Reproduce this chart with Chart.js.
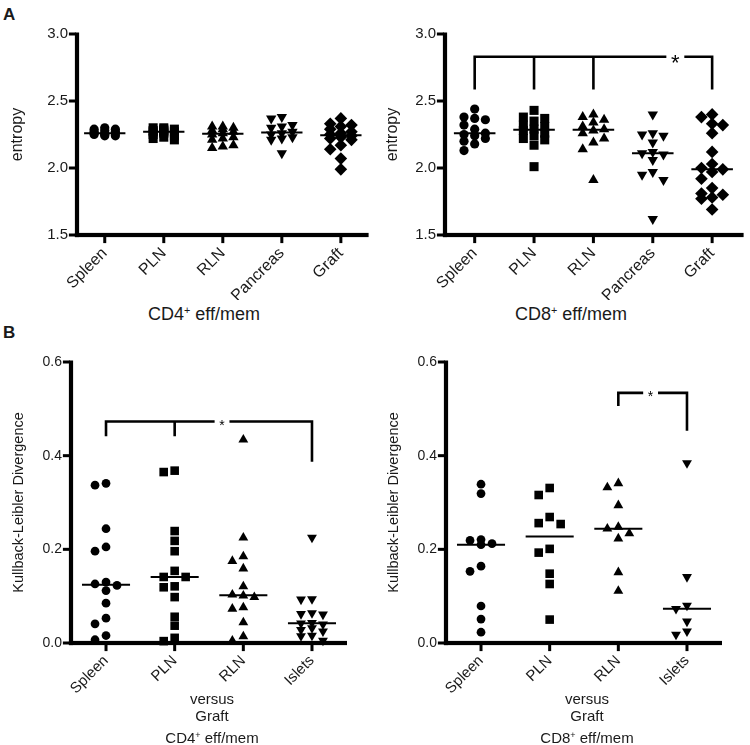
<!DOCTYPE html>
<html>
<head>
<meta charset="utf-8">
<script src="https://cdn.jsdelivr.net/npm/chart.js@4.4.0/dist/chart.umd.min.js"></script>
<style>
  body { margin: 0; background: #fff; }
  #page { position: relative; width: 750px; height: 745px; overflow: hidden; font-family: "Liberation Sans", Arial, sans-serif; color: #1a1a1a; }
  canvas { position: absolute; }
  .txt { position: absolute; transform: translate(-50%, -50%); white-space: nowrap; line-height: 1; }
  .tag { position: absolute; font-weight: bold; font-size: 17px; line-height: 1; }
  sup { font-size: 60%; vertical-align: 0.55em; line-height: 0; }
</style>
</head>
<body>
<div id="page">
  <div class="tag" style="left:3px; top:6px">A</div>
  <div class="tag" style="left:3px; top:324px">B</div>

  <canvas id="cd4Ent" width="375" height="300" style="left:0; top:0"></canvas>
  <canvas id="cd8Ent" width="375" height="300" style="left:375px; top:0"></canvas>
  <canvas id="cd4Kl" width="375" height="380" style="left:0; top:330px"></canvas>
  <canvas id="cd8Kl" width="375" height="380" style="left:375px; top:330px"></canvas>

  <div class="txt" style="left:204px; top:314px; font-size:18px">CD4<sup>+</sup> eff/mem</div>
  <div class="txt" style="left:571px; top:314px; font-size:18px">CD8<sup>+</sup> eff/mem</div>

  <div class="txt" style="left:212px; top:698px; font-size:15px">versus</div>
  <div class="txt" style="left:212px; top:715px; font-size:15px">Graft</div>
  <div class="txt" style="left:212px; top:737px; font-size:15px">CD4<sup>+</sup> eff/mem</div>
  <div class="txt" style="left:587px; top:698px; font-size:15px">versus</div>
  <div class="txt" style="left:587px; top:715px; font-size:15px">Graft</div>
  <div class="txt" style="left:587px; top:737px; font-size:15px">CD8<sup>+</sup> eff/mem</div>
</div>

<script>
// categories
const groupsA = ["Spleen", "PLN", "RLN", "Pancreas", "Graft"]
const groupsB = ["Spleen", "PLN", "RLN", "Islets"]

// tick labels
const entropyTicks = [1.5, 2.0, 2.5, 3.0]
const klTicks = [0, 0.2, 0.4, 0.6]

// A - entropy, CD4+ eff/mem
const cd4EntSpleen = [2.30, 2.29, 2.29, 2.28, 2.27, 2.27, 2.26, 2.26, 2.26, 2.25, 2.25, 2.24, 2.24]
const cd4EntPln = [2.30, 2.30, 2.29, 2.29, 2.28, 2.28, 2.27, 2.27, 2.27, 2.26, 2.25, 2.24, 2.23, 2.22, 2.21]
const cd4EntRln = [2.31, 2.31, 2.30, 2.29, 2.28, 2.27, 2.26, 2.25, 2.23, 2.22, 2.21, 2.17, 2.16, 2.15]
const cd4EntPancreas = [2.38, 2.37, 2.32, 2.31, 2.30, 2.27, 2.26, 2.25, 2.23, 2.22, 2.21, 2.11]
const cd4EntGraft = [2.37, 2.33, 2.32, 2.31, 2.29, 2.27, 2.26, 2.25, 2.24, 2.23, 2.22, 2.21, 2.17, 2.14, 2.07, 1.99]

// A - entropy, CD8+ eff/mem
const cd8EntSpleen = [2.44, 2.38, 2.37, 2.36, 2.32, 2.29, 2.26, 2.25, 2.24, 2.22, 2.20, 2.18, 2.13]
const cd8EntPln = [2.43, 2.38, 2.37, 2.35, 2.32, 2.31, 2.29, 2.28, 2.26, 2.24, 2.22, 2.21, 2.17, 2.01]
const cd8EntRln = [2.40, 2.38, 2.36, 2.34, 2.31, 2.29, 2.28, 2.26, 2.22, 2.19, 2.14, 1.91]
const cd8EntPancreas = [2.40, 2.26, 2.25, 2.24, 2.19, 2.12, 2.11, 2.10, 2.06, 1.97, 1.95, 1.91, 1.62]
const cd8EntGraft = [2.40, 2.38, 2.33, 2.32, 2.26, 2.12, 2.03, 2.00, 1.99, 1.97, 1.92, 1.85, 1.81, 1.80, 1.78, 1.77, 1.69]

// B - Kullback-Leibler divergence versus graft, CD4+
const cd4KlSpleen = [0.341, 0.337, 0.244, 0.205, 0.196, 0.130, 0.126, 0.123, 0.112, 0.085, 0.053, 0.041, 0.016, 0.007]
const cd4KlPln = [0.368, 0.365, 0.239, 0.218, 0.196, 0.154, 0.141, 0.141, 0.121, 0.119, 0.098, 0.056, 0.037, 0.011, 0.004]
const cd4KlRln = [0.434, 0.225, 0.185, 0.175, 0.159, 0.121, 0.103, 0.101, 0.098, 0.076, 0.073, 0.044, 0.014, 0.005]
const cd4KlIslets = [0.225, 0.094, 0.093, 0.064, 0.062, 0.061, 0.043, 0.042, 0.040, 0.032, 0.028, 0.025, 0.016, 0.015, 0.005]

// B - Kullback-Leibler divergence versus graft, CD8+
const cd8KlSpleen = [0.339, 0.319, 0.221, 0.219, 0.212, 0.210, 0.164, 0.153, 0.079, 0.051, 0.023]
const cd8KlPln = [0.331, 0.316, 0.269, 0.256, 0.254, 0.201, 0.193, 0.148, 0.126, 0.050]
const cd8KlRln = [0.341, 0.332, 0.294, 0.248, 0.244, 0.234, 0.223, 0.151, 0.111]
const cd8KlIslets = [0.384, 0.141, 0.080, 0.073, 0.046, 0.025, 0.018]

// significance brackets: groups joined (1-based), bar level, where each leg ends, star position
const cd8EntBracket = { groups: [1, 2, 3, 5], top: 2.83, legs: [2.595, 2.595, 2.595, 2.595], star: 4.38, size: 22 }
const cd4KlBracket = { groups: [1, 2, 4], top: 0.473, legs: [0.444, 0.444, 0.39], star: 2.69, size: 14 }
const cd8KlBracket = { groups: [3, 4], top: 0.534, legs: [0.509, 0.456], star: 3.47, size: 14 }

Chart.defaults.font.family = "'Liberation Sans', Arial, sans-serif"
Chart.defaults.color = "#1a1a1a"

const markers = [
  { pointStyle: "circle", rotation: 0, size: 4.6 },
  { pointStyle: "rect", rotation: 0, size: 6.4 },
  { pointStyle: "triangle", rotation: 0, size: 6 },
  { pointStyle: "triangle", rotation: 180, size: 6 },
  { pointStyle: "rectRot", rotation: 0, size: 6.3 },
]

function median(values) {
  const s = [...values].sort((a, b) => a - b)
  const m = Math.floor(s.length / 2)
  return s.length % 2 ? s[m] : (s[m - 1] + s[m]) / 2
}

// simple column scatter: spread points that would overlap into side columns
function spread(values, yGap, xGap) {
  const cols = [0, -xGap, xGap]
  const placed = cols.map(() => [])
  const order = values.map((_, i) => i).sort((a, b) => values[b] - values[a])
  const out = []
  for (const i of order) {
    const v = values[i]
    let best = 0, bestDist = -1
    for (let c = 0; c < cols.length; c++) {
      const d = placed[c].length ? Math.min(...placed[c].map(p => Math.abs(p - v))) : Infinity
      if (d >= yGap) { best = c; bestDist = d; break }
      if (d > bestDist) { best = c; bestDist = d }
    }
    placed[best].push(v)
    out[i] = cols[best]
  }
  return out
}

// heavy black axis lines with outward tick marks, drawn under the points
const axesPlugin = {
  id: "axes",
  beforeDatasetsDraw(chart) {
    const { ctx, chartArea: a } = chart
    const x = chart.scales.x, y = chart.scales.y
    const w = 4.2, tw = 3, tl = 6
    ctx.save()
    ctx.fillStyle = "#000"
    ctx.fillRect(a.left - w / 2, a.top - 1.5, w, a.bottom - a.top + 1.5 + w / 2)
    ctx.fillRect(a.left - w / 2, a.bottom - w / 2, a.right - a.left + w / 2, w)
    y.ticks.forEach(t => {
      const py = y.getPixelForValue(t.value)
      ctx.fillRect(a.left - w / 2 - tl, py - tw / 2, tl + 1, tw)
    })
    x.ticks.forEach(t => {
      const px = x.getPixelForValue(t.value)
      ctx.fillRect(px - tw / 2, a.bottom, tw, w / 2 + tl)
    })
    ctx.restore()
  },
}

const bracketPlugin = {
  id: "bracket",
  afterDatasetsDraw(chart, args, opts) {
    if (!opts || !opts.groups) return
    const { ctx } = chart
    const x = chart.scales.x, y = chart.scales.y
    const top = y.getPixelForValue(opts.top)
    const xs = opts.groups.map(g => x.getPixelForValue(g))
    const starX = x.getPixelForValue(opts.star)
    ctx.save()
    ctx.font = opts.size + "px 'Liberation Sans', Arial, sans-serif"
    const half = ctx.measureText("*").width / 2 + 6
    ctx.strokeStyle = "#000"
    ctx.lineWidth = 2.6
    ctx.lineCap = "square"
    ctx.beginPath()
    ctx.moveTo(xs[0], top)
    ctx.lineTo(starX - half, top)
    ctx.moveTo(starX + half, top)
    ctx.lineTo(xs[xs.length - 1], top)
    xs.forEach((px, i) => {
      ctx.moveTo(px, top)
      ctx.lineTo(px, y.getPixelForValue(opts.legs[i]))
    })
    ctx.stroke()
    ctx.fillStyle = "#000"
    ctx.textAlign = "center"
    ctx.textBaseline = "alphabetic"
    ctx.fillText("*", starX, top + opts.size * 0.6)
    ctx.restore()
  },
}

function makePanel(id, p) {
  const datasets = []
  p.series.forEach((values, i) => {
    const m = markers[i]
    const offs = spread(values, p.gapY, p.gapX)
    datasets.push({
      data: values.map((v, j) => ({ x: i + 1 + offs[j], y: v })),
      pointStyle: m.pointStyle,
      rotation: m.rotation,
      pointRadius: m.size * p.markerScale,
      pointBackgroundColor: "#000",
      pointBorderWidth: 0,
      clip: false,
      order: 1,
    })
    const med = median(values)
    datasets.push({
      data: [{ x: i + 1 - 0.35, y: med }, { x: i + 1 + 0.35, y: med }],
      showLine: true,
      borderColor: "#000",
      borderWidth: 2,
      pointRadius: 0,
      order: 0,
    })
  })

  // invisible library tick marks keep the label spacing; the plugin draws the visible ones
  const tickSpace = { display: true, drawOnChartArea: false, color: "rgba(0,0,0,0)", tickLength: 8 }

  new Chart(document.getElementById(id), {
    type: "scatter",
    data: { datasets },
    plugins: [axesPlugin, bracketPlugin],
    options: {
      responsive: false,
      animation: false,
      layout: { padding: { top: p.padTop, right: p.padRight, left: 0, bottom: 0 } },
      plugins: {
        legend: { display: false },
        tooltip: { enabled: false },
        bracket: p.bracket || {},
      },
      scales: {
        x: {
          type: "linear",
          min: p.xMin,
          max: p.xMax,
          afterBuildTicks: s => { s.ticks = p.groups.map((_, i) => ({ value: i + 1 })) },
          afterFit: s => { s.height = p.xHeight },
          ticks: {
            autoSkip: false,
            minRotation: 45,
            maxRotation: 45,
            padding: 1,
            color: "#1a1a1a",
            font: { size: p.labelSize },
            callback: v => p.groups[Math.round(v) - 1],
          },
          grid: tickSpace,
          border: { display: false },
        },
        y: {
          min: p.yTicks[0],
          max: p.yTicks[p.yTicks.length - 1],
          afterBuildTicks: s => { s.ticks = p.yTicks.map(v => ({ value: v })) },
          afterFit: s => { s.width = p.yWidth },
          ticks: {
            padding: 1,
            color: "#1a1a1a",
            font: { size: p.tickSize },
            callback: v => v.toFixed(1),
          },
          grid: tickSpace,
          border: { display: false },
          title: {
            display: true,
            text: p.yTitle,
            color: "#1a1a1a",
            font: { size: p.titleSize },
            padding: { top: p.titlePad, bottom: 0 },
          },
        },
      },
    },
  })
}

const panelA = {
  groups: groupsA, yTicks: entropyTicks, yTitle: "entropy",
  padTop: 34, xHeight: 65, tickSize: 15, labelSize: 16, titleSize: 16, titlePad: 8,
  markerScale: 1, gapY: 0.065, gapX: 0.18,
}
const panelB = {
  groups: groupsB, yTicks: klTicks, yTitle: "Kullback-Leibler Divergence",
  padTop: 32, xHeight: 67, tickSize: 14, labelSize: 15, titleSize: 14.5, titlePad: 10.5,
  markerScale: 0.95, gapY: 0.019, gapX: 0.16,
}

makePanel("cd4Ent", { ...panelA, series: [cd4EntSpleen, cd4EntPln, cd4EntRln, cd4EntPancreas, cd4EntGraft],
  yWidth: 77, padRight: 3, xMin: 0.53, xMax: 5.47 })
makePanel("cd8Ent", { ...panelA, series: [cd8EntSpleen, cd8EntPln, cd8EntRln, cd8EntPancreas, cd8EntGraft],
  yWidth: 70, padRight: 3, xMin: 0.5, xMax: 5.53, bracket: cd8EntBracket })
makePanel("cd4Kl", { ...panelB, series: [cd4KlSpleen, cd4KlPln, cd4KlRln, cd4KlIslets],
  yWidth: 71, padRight: 28, xMin: 0.49, xMax: 4.51, bracket: cd4KlBracket })
makePanel("cd8Kl", { ...panelB, series: [cd8KlSpleen, cd8KlPln, cd8KlRln, cd8KlIslets],
  yWidth: 71, padRight: 28, xMin: 0.49, xMax: 4.51, bracket: cd8KlBracket })
</script>
</body>
</html>
